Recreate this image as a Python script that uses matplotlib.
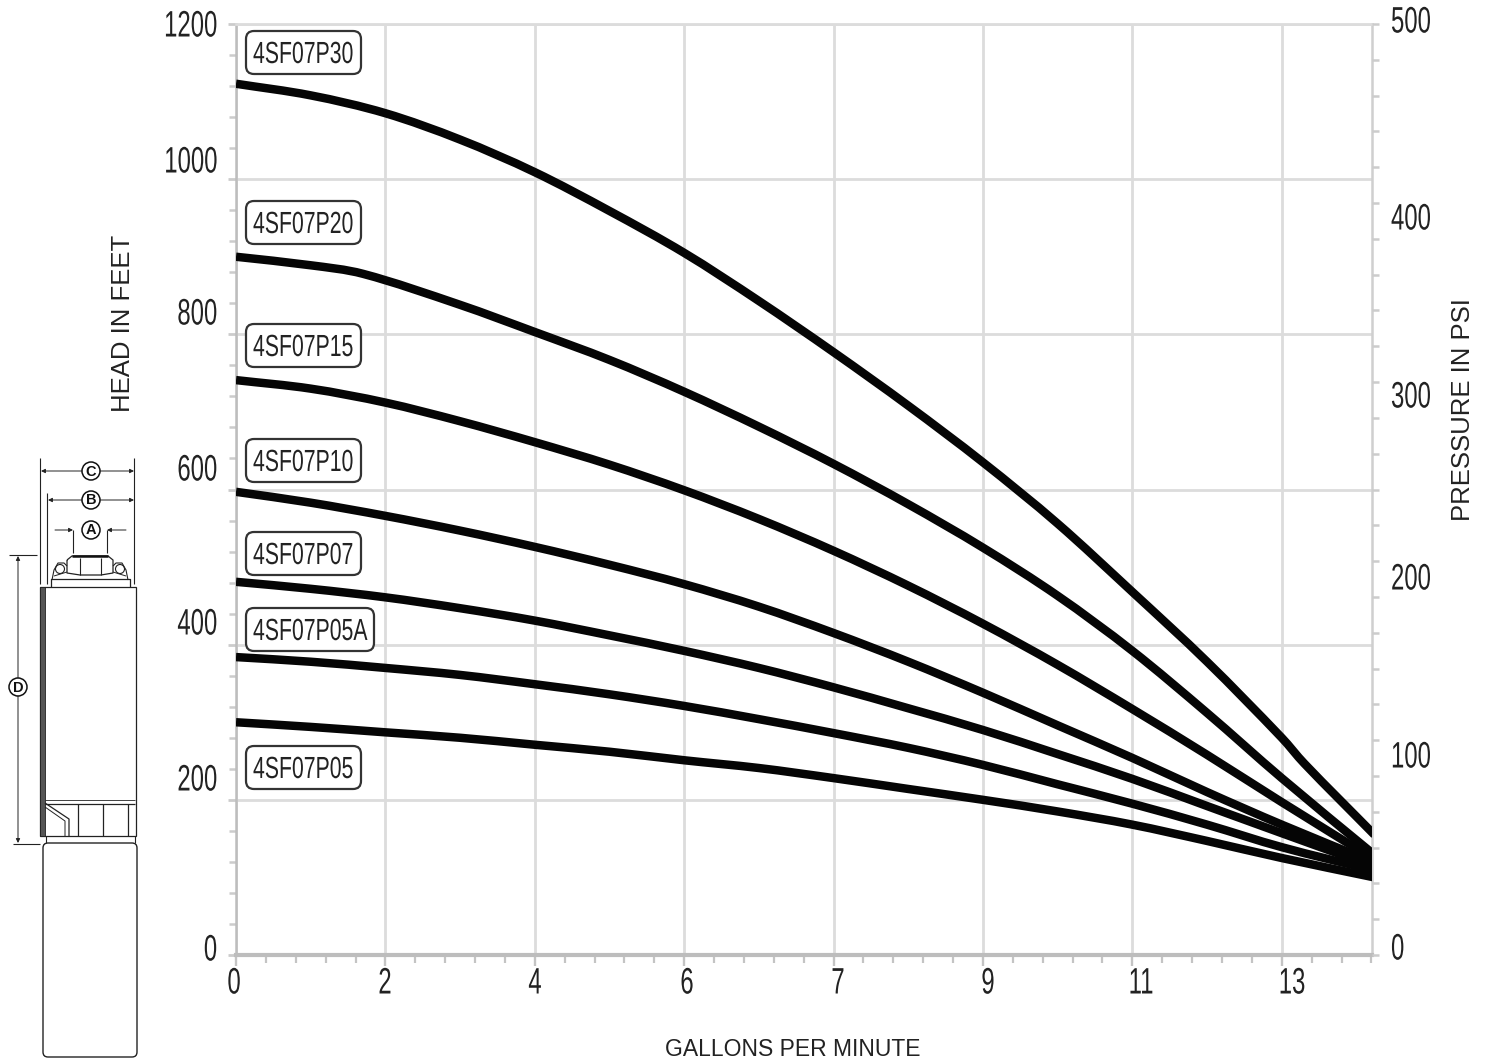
#!/usr/bin/env python3
import matplotlib
matplotlib.use("Agg")
import matplotlib.pyplot as plt
from matplotlib.patches import Circle, FancyBboxPatch, PathPatch, Rectangle
from matplotlib.path import Path
from matplotlib.patheffects import AbstractPathEffect
from matplotlib.ticker import MultipleLocator
from matplotlib.transforms import Affine2D

W, H = 1488, 1061
PLAIN = ["Liberation Sans", "DejaVu Sans"]

# x runs in grid divisions, the printed labels are not evenly spaced in gpm
x_labels = ["0", "2", "4", "6", "7", "9", "11", "13"]
x_half = [0, .5, 1, 1.5, 2, 2.5, 3, 3.5, 4, 4.5, 5, 5.5, 6, 6.5, 7, 7.62]
x_p30 = [0, .5, 1, 1.5, 2, 2.5, 3, 3.5, 4, 4.5, 5, 5.5, 6, 6.5, 7, 7.15, 7.62]
x_p20 = [0, .5, .85, 1.5, 2, 2.5, 3, 3.5, 4, 4.5, 5, 5.5, 6, 6.5, 7, 7.62]

p30 = [1123, 1108, 1085, 1051, 1009, 959, 905, 843, 777, 708, 635, 556, 468, 378, 280, 247, 155]
p20 = [900, 889, 878, 838, 803, 767, 726, 681, 633, 581, 525, 463, 392, 312, 228, 129]
p15 = [741, 730, 712, 688, 661, 632, 599, 562, 521, 476, 427, 374, 317, 258, 197, 123]
p10 = [597, 583, 566, 547, 526, 503, 478, 449, 415, 378, 338, 296, 254, 210, 168, 119]
p07 = [481, 472, 461, 447, 431, 412, 392, 370, 345, 318, 290, 259, 227, 192, 157, 114]
p05a = [384, 378, 370, 361, 349, 336, 321, 304, 286, 267, 245, 220, 195, 168, 139, 109]
p05 = [300, 294, 287, 280, 271, 262, 251, 241, 228, 214, 200, 185, 168, 147, 125, 100]

head_labels = ["1200", "1000", "800", "600", "400", "200", "0"]
psi_labels = ["500", "400", "300", "200", "100", "0"]
models = ["4SF07P30", "4SF07P20", "4SF07P15", "4SF07P10", "4SF07P07", "4SF07P05A", "4SF07P05"]


class Squeeze(AbstractPathEffect):
    """Narrow the glyphs around a pixel column, no condensed font is installed."""

    def __init__(self, x0, sx):
        super().__init__()
        self.x0 = x0
        self.sx = sx

    def draw_path(self, renderer, gc, tpath, affine, rgbFace=None):
        squeeze = Affine2D().translate(-self.x0, 0).scale(self.sx, 1).translate(self.x0, 0)
        renderer.draw_path(gc, tpath, affine + squeeze, rgbFace)


def narrow(ov, x, y, s, ha, size, sx):
    ov.text(x, y, s, family=PLAIN, fontsize=size, color="#222222", ha=ha, va="center",
            path_effects=[Squeeze(x, sx)])


def smooth_curve(ax, xs, ys):
    # draw through the read points with bezier segments so no corners show
    verts = [(xs[0], ys[0])]
    codes = [Path.MOVETO]
    n = len(xs)
    for i in range(n - 1):
        a = max(i - 1, 0)
        b = min(i + 2, n - 1)
        h = xs[i + 1] - xs[i]
        m0 = (ys[i + 1] - ys[a]) / (xs[i + 1] - xs[a])
        m1 = (ys[b] - ys[i]) / (xs[b] - xs[i])
        verts += [(xs[i] + h / 3, ys[i] + m0 * h / 3),
                  (xs[i + 1] - h / 3, ys[i + 1] - m1 * h / 3),
                  (xs[i + 1], ys[i + 1])]
        codes += [Path.CURVE4] * 3
    ax.add_patch(PathPatch(Path(verts, codes), fc="none", ec="#050505", lw=6.1,
                           capstyle="butt", zorder=5))


def main() -> int:
    fig = plt.figure(figsize=(W / 100, H / 100), dpi=100)
    ax = fig.add_axes([236 / W, 1 - 955 / H, (1372 - 236) / W, (955 - 24) / H])
    ax.set_xlim(0, 7.604)
    ax.set_ylim(0, 1200)

    ax.set_xticks(range(8))
    ax.set_xticklabels([])
    ax.xaxis.set_minor_locator(MultipleLocator(0.2))
    ax.set_yticks(range(0, 1201, 200))
    ax.set_yticklabels([])
    ax.yaxis.set_minor_locator(MultipleLocator(40))
    ax.grid(True, which="major", color="#dcdcdc", lw=2.0)
    ax.set_axisbelow(True)
    ax.tick_params(axis="x", which="major", length=8, width=1.7, color="#c4c4c4")
    ax.tick_params(axis="x", which="minor", length=6, width=1.6, color="#c4c4c4")
    ax.tick_params(axis="y", which="major", length=6, width=2.0, color="#cccccc")
    ax.tick_params(axis="y", which="minor", length=5, width=1.8, color="#cccccc")
    ax.spines["left"].set(color="#bdbdbd", lw=1.8)
    ax.spines["bottom"].set(color="#bdbdbd", lw=3.0)
    ax.spines["top"].set(color="#dcdcdc", lw=2.0)
    ax.spines["right"].set(color="#cfcfcf", lw=1.8)

    right = ax.twinx()
    right.set_ylim(0, 500)
    right.set_yticks([500 / 26 * i for i in range(27)])
    right.set_yticklabels([])
    right.tick_params(axis="y", length=5, width=1.8, color="#cccccc")
    for s in right.spines.values():
        s.set_visible(False)

    smooth_curve(ax, x_p30, p30)
    smooth_curve(ax, x_p20, p20)
    for ys in (p15, p10, p07, p05a, p05):
        smooth_curve(ax, x_half, ys)

    # overlay in image pixels for the loose labels, boxes and the pump drawing
    ov = fig.add_axes([0, 0, 1, 1], zorder=10)
    ov.set_xlim(0, W)
    ov.set_ylim(H, 0)
    ov.axis("off")
    ov.patch.set_alpha(0)

    for lab, y in zip(head_labels, [27, 163, 315, 471, 625, 781, 951]):
        narrow(ov, 217, y, lab, "right", 26.5, 0.65)
    for lab, y in zip(psi_labels, [23, 220, 398, 580, 758, 950]):
        narrow(ov, 1391, y, lab, "left", 26.5, 0.65)
    for lab, x in zip(x_labels, [234, 385, 535, 687, 838, 988, 1141, 1292]):
        narrow(ov, x, 984, lab, "center", 26.5, 0.65)

    ov.text(123, 323, "HEAD IN FEET", family=PLAIN, fontsize=18.5, rotation=90,
            color="#222222", ha="center", va="center")
    ov.text(1463, 410, "PRESSURE IN PSI", family=PLAIN, fontsize=18.5, rotation=90,
            color="#222222", ha="center", va="center")
    ov.text(793, 1049, "GALLONS PER MINUTE", family=PLAIN, fontsize=16.5,
            color="#222222", ha="center", va="center")

    box_tops = [31, 201, 324, 439, 532, 608, 746]
    for name, top in zip(models, box_tops):
        width = 128 if name.endswith("A") else 115
        ov.add_patch(FancyBboxPatch((250, top + 4), width - 8, 35,
                                    boxstyle="round,pad=4,rounding_size=8",
                                    fc="white", ec="#333333", lw=1.6))
        narrow(ov, 253, top + 24, name, "left", 22, 0.695)

    draw_pump(ov)
    fig.savefig("out.png", dpi=100)
    return 0


def seg(ov, xs, ys, lw=0.9, color="#222222"):
    ov.plot(xs, ys, color=color, lw=lw, solid_capstyle="butt")


def tag(ov, x, y, letter):
    ov.add_patch(Circle((x, y), 9, fc="white", ec="#111111", lw=1.1, zorder=3))
    ov.text(x, y + 0.5, letter, family=PLAIN, fontsize=10.5, fontweight="bold",
            ha="center", va="center", color="#111111", zorder=4)


def arrow(ov, x0, y0, x1, y1):
    ov.annotate("", xy=(x1, y1), xytext=(x0, y0),
                arrowprops=dict(arrowstyle="-|>", color="#222222", lw=0.7,
                                mutation_scale=6, shrinkA=0, shrinkB=0))


def draw_pump(ov):
    # dimension lines
    seg(ov, [40, 40], [458, 584], 0.8)
    seg(ov, [134, 134], [458, 584], 0.8)
    seg(ov, [47, 47], [493, 584], 0.8)
    arrow(ov, 91, 471, 41, 471)
    arrow(ov, 91, 471, 134, 471)
    arrow(ov, 91, 500, 48, 500)
    arrow(ov, 91, 500, 134, 500)
    seg(ov, [73, 73], [530, 553], 0.8)
    seg(ov, [107, 107], [530, 553], 0.8)
    arrow(ov, 55, 530, 73, 530)
    arrow(ov, 126, 530, 107, 530)
    seg(ov, [9, 37], [555, 555], 0.8)
    seg(ov, [13, 40], [844, 844], 0.8)
    arrow(ov, 18, 687, 18, 556)
    arrow(ov, 18, 687, 18, 843)
    tag(ov, 91, 471, "C")
    tag(ov, 91, 500, "B")
    tag(ov, 91, 530, "A")
    tag(ov, 18, 687, "D")

    # head and nut
    seg(ov, [67, 72, 108, 113, 113, 101, 80, 67, 67],
        [560, 556, 556, 560, 573, 575, 575, 573, 560], 0.9)
    seg(ov, [72, 108], [556, 556], 1.8, "#111111")
    seg(ov, [80, 80], [558, 575], 0.8)
    seg(ov, [101, 101], [558, 575], 0.8)
    ov.add_patch(Circle((60, 569), 4.5, fc="white", ec="#222222", lw=0.8))
    ov.add_patch(Circle((120, 569), 4.5, fc="white", ec="#222222", lw=0.8))
    seg(ov, [52, 54, 58, 64, 67], [580, 570, 563, 563, 566], 0.8)
    seg(ov, [128, 126, 122, 116, 113], [580, 570, 563, 563, 566], 0.8)
    seg(ov, [51, 51, 130, 130], [587, 579, 579, 587], 0.9)
    seg(ov, [54, 67], [576, 572], 0.7)
    seg(ov, [126, 113], [576, 572], 0.7)

    # pump body
    ov.add_patch(Rectangle((40, 587), 95.5, 249, fc="white", ec="#222222", lw=0.9))
    ov.add_patch(Rectangle((40, 587), 4.5, 249, fc="#555555", ec="#222222", lw=0.6))
    seg(ov, [45, 135], [804, 804], 0.9)
    seg(ov, [45, 135], [800, 800], 0.6)
    seg(ov, [45, 69, 69], [803, 819, 836], 0.9)
    seg(ov, [45, 65, 65], [807, 821, 836], 0.7)
    for x in (78, 103, 128):
        seg(ov, [x, x], [804, 836], 0.9)
    seg(ov, [46, 46], [836, 843], 0.8)
    seg(ov, [135, 135], [836, 843], 0.8)

    # motor
    ov.add_patch(FancyBboxPatch((47, 847), 86, 206,
                                boxstyle="round,pad=4,rounding_size=5",
                                fc="white", ec="#222222", lw=1.0))


if __name__ == "__main__":
    raise SystemExit(main())
